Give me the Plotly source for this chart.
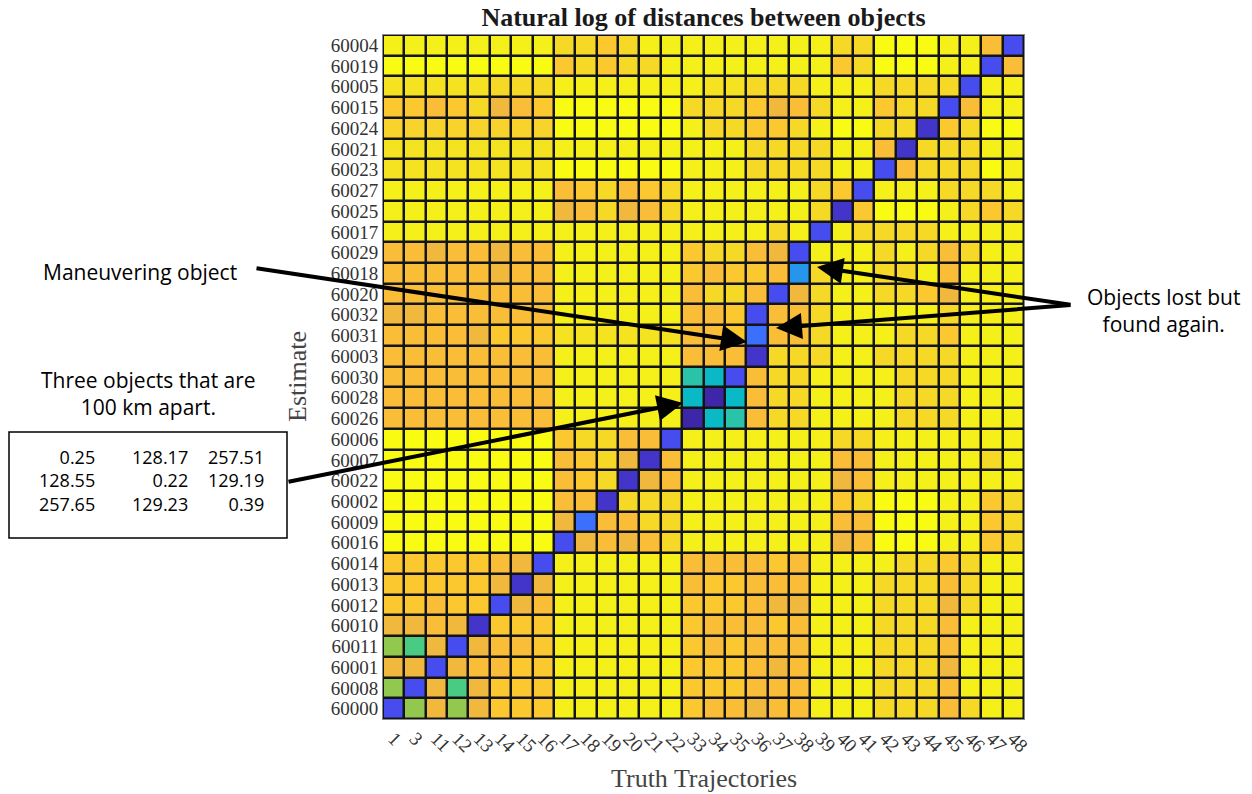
import plotly.graph_objects as go

truth_labels = ["1", "3", "11", "12", "13", "14", "15", "16", "17", "18", "19", "20", "21", "22",
                "33", "34", "35", "36", "37", "38", "39", "40", "41", "42", "43", "44", "45", "46", "47", "48"]

estimate_labels = ["60004", "60019", "60005", "60015", "60024", "60021", "60023", "60027", "60025",
                   "60017", "60029", "60018", "60020", "60032", "60031", "60003", "60030", "60028",
                   "60026", "60006", "60007", "60022", "60002", "60009", "60016", "60014", "60013",
                   "60012", "60010", "60011", "60001", "60008", "60000"]

# natural log of distances (rows = estimates top->bottom, cols = truth trajectories)
log_dist = [
    [10.55, 10.55, 10.55, 10.55, 10.55, 10.55, 10.55, 10.55, 9.95, 9.95, 9.4, 9.95, 10.55, 10.55, 10.55, 10.55, 10.55, 10.55, 10.55, 10.55, 10.55, 9.95, 9.95, 10.8, 10.8, 10.8, 10.55, 10.55, 9.05, 1.1],
    [10.8, 10.8, 10.8, 10.8, 10.8, 10.8, 10.8, 10.8, 9.4, 9.95, 9.4, 9.95, 9.95, 10.55, 10.55, 10.55, 10.55, 10.55, 10.55, 10.55, 10.55, 9.4, 9.95, 10.8, 10.8, 10.8, 10.55, 10.55, 1.1, 9.05],
    [10.25, 10.25, 10.25, 10.25, 10.25, 9.95, 9.95, 9.95, 10.55, 10.55, 10.55, 10.55, 10.55, 10.55, 10.55, 10.25, 10.25, 9.95, 9.95, 9.95, 10.55, 10.55, 10.55, 9.95, 9.95, 9.95, 9.95, 1.1, 10.55, 10.55],
    [9.4, 9.4, 9.05, 9.4, 9.95, 8.7, 9.05, 9.4, 10.8, 10.8, 10.8, 10.8, 10.8, 10.8, 9.95, 9.95, 9.95, 9.4, 8.7, 9.05, 9.95, 10.55, 10.55, 9.4, 9.95, 9.95, 1.1, 9.05, 10.55, 10.55],
    [9.75, 9.75, 9.75, 9.75, 9.75, 9.75, 9.75, 9.75, 10.8, 10.8, 10.8, 10.8, 10.8, 10.8, 10.55, 9.95, 9.95, 9.4, 9.4, 9.95, 10.55, 10.8, 10.8, 9.95, 9.95, 0.1, 9.4, 9.95, 10.8, 10.8],
    [10.25, 10.25, 10.25, 10.25, 10.25, 10.25, 10.25, 10.25, 10.55, 10.55, 10.55, 10.55, 10.55, 10.55, 10.55, 10.55, 10.55, 9.95, 9.95, 9.95, 9.95, 10.55, 10.55, 9.05, 0.1, 9.95, 9.95, 9.95, 10.55, 10.55],
    [10.25, 10.25, 10.25, 10.25, 10.25, 10.25, 10.25, 10.25, 10.8, 10.8, 10.8, 10.8, 10.8, 10.8, 10.55, 10.55, 10.55, 9.95, 9.95, 9.95, 9.95, 10.55, 10.55, 1.1, 9.05, 9.95, 9.95, 9.95, 10.8, 10.55],
    [10.55, 10.55, 10.55, 10.55, 10.55, 10.55, 10.55, 10.55, 9.05, 9.4, 9.95, 9.05, 9.4, 9.95, 10.55, 10.55, 10.55, 10.55, 10.55, 10.55, 9.95, 9.4, 1.1, 10.55, 10.55, 10.55, 9.95, 9.95, 9.95, 10.55],
    [10.55, 10.55, 10.55, 10.55, 10.55, 10.55, 10.55, 10.55, 8.7, 9.05, 9.95, 8.7, 9.05, 9.95, 10.55, 10.55, 10.55, 10.55, 10.55, 10.55, 9.95, 0.1, 9.4, 10.8, 10.8, 10.8, 10.55, 9.95, 9.4, 9.95],
    [10.55, 10.55, 10.55, 10.55, 10.55, 10.55, 10.55, 10.55, 10.55, 10.55, 10.55, 10.55, 10.55, 10.55, 10.55, 10.55, 10.55, 10.55, 9.95, 10.55, 1.1, 10.55, 9.95, 9.95, 9.95, 9.95, 10.55, 10.55, 10.55, 10.55],
    [9.05, 9.05, 8.7, 9.05, 9.05, 8.7, 9.05, 9.05, 10.55, 10.55, 10.55, 10.55, 10.55, 10.55, 9.4, 9.95, 9.95, 9.05, 8.7, 1.1, 10.55, 10.55, 10.55, 9.95, 10.55, 9.95, 9.05, 9.95, 10.55, 10.55],
    [9.05, 9.05, 9.05, 9.05, 9.05, 8.7, 9.05, 9.05, 10.55, 10.55, 10.55, 10.55, 10.55, 10.55, 9.4, 9.05, 9.4, 9.4, 9.05, 3.2, 9.95, 10.55, 10.55, 9.95, 9.95, 10.55, 9.05, 10.55, 10.55, 10.55],
    [9.05, 9.05, 9.05, 9.05, 9.05, 9.05, 9.05, 9.05, 10.55, 10.55, 10.55, 10.55, 10.55, 10.55, 9.05, 9.95, 9.95, 9.05, 1.1, 8.7, 9.95, 10.55, 10.55, 9.95, 9.95, 9.4, 8.7, 10.55, 10.55, 10.55],
    [8.7, 8.7, 9.05, 9.05, 9.05, 9.05, 9.05, 9.05, 10.55, 10.55, 10.55, 10.55, 10.55, 10.55, 9.05, 9.05, 9.4, 1.1, 9.05, 9.05, 9.95, 10.55, 10.55, 10.55, 10.55, 10.55, 9.95, 10.55, 10.55, 10.55],
    [9.05, 9.05, 9.05, 9.05, 8.7, 9.4, 9.4, 9.4, 10.25, 10.25, 10.25, 10.25, 10.25, 10.25, 9.05, 9.05, 9.4, 2.15, 9.05, 9.05, 9.95, 10.55, 10.55, 10.55, 9.95, 9.95, 9.4, 10.55, 10.55, 10.55],
    [9.05, 9.05, 9.05, 9.05, 9.05, 9.05, 9.05, 9.05, 10.55, 10.55, 10.55, 10.55, 10.55, 10.55, 9.05, 9.05, 9.05, 0.1, 9.95, 9.95, 9.95, 10.55, 10.55, 9.95, 9.95, 9.95, 9.95, 10.55, 10.55, 10.55],
    [9.05, 9.05, 9.05, 9.05, 9.05, 9.05, 9.05, 9.05, 10.55, 10.55, 10.55, 10.55, 10.55, 10.55, 5.552, 4.862, 1.1, 9.05, 9.95, 9.95, 10.55, 10.55, 10.55, 10.55, 9.95, 9.95, 9.95, 10.55, 10.55, 10.55],
    [9.05, 9.05, 9.05, 9.05, 9.05, 9.05, 9.05, 9.05, 10.55, 10.55, 10.55, 10.55, 10.55, 10.55, 4.856, -1.514, 4.861, 9.05, 9.95, 9.95, 10.55, 10.55, 10.55, 10.55, 9.95, 9.95, 9.95, 10.55, 10.55, 10.55],
    [9.05, 9.05, 9.05, 9.05, 9.05, 9.05, 9.05, 9.05, 10.55, 10.55, 10.55, 10.55, 10.55, 10.55, -1.386, 4.853, 5.551, 9.05, 9.95, 9.95, 10.55, 10.55, 10.55, 10.55, 9.95, 9.95, 9.95, 10.55, 10.55, 10.55],
    [10.8, 10.8, 10.8, 10.8, 10.8, 10.8, 10.8, 10.8, 9.4, 9.95, 9.95, 9.05, 9.05, 1.1, 10.55, 10.55, 10.55, 10.55, 10.55, 10.55, 10.55, 9.95, 9.95, 10.55, 10.55, 10.55, 10.55, 10.55, 10.55, 10.55],
    [10.8, 10.8, 10.8, 10.8, 10.8, 10.8, 10.8, 10.8, 9.05, 9.4, 9.95, 8.7, 0.1, 9.05, 10.55, 10.55, 10.55, 10.55, 10.55, 10.55, 10.55, 9.05, 9.05, 10.55, 10.55, 10.55, 10.55, 10.55, 9.95, 10.55],
    [10.8, 10.8, 10.8, 10.8, 10.8, 10.8, 10.8, 10.8, 9.05, 9.4, 9.95, 0.1, 8.7, 9.05, 10.55, 10.55, 10.55, 10.55, 10.55, 10.55, 10.55, 8.7, 9.05, 10.55, 10.55, 10.55, 10.55, 10.55, 10.55, 10.55],
    [10.8, 10.8, 10.8, 10.8, 10.8, 10.8, 10.8, 10.8, 9.05, 9.05, 0.1, 9.95, 9.95, 9.95, 10.55, 10.55, 10.55, 10.55, 10.55, 10.55, 10.55, 9.4, 9.95, 10.8, 10.8, 10.8, 10.55, 10.55, 9.4, 9.95],
    [10.8, 10.8, 10.8, 10.8, 10.8, 10.8, 10.8, 10.8, 8.7, 2.15, 9.05, 9.05, 9.95, 9.95, 10.55, 10.55, 10.55, 10.55, 10.55, 10.55, 10.55, 9.05, 9.05, 10.8, 10.8, 10.8, 10.55, 10.55, 9.4, 9.95],
    [10.8, 10.8, 10.8, 10.8, 10.8, 10.8, 10.8, 10.8, 1.1, 8.7, 9.05, 8.7, 9.05, 9.95, 10.55, 10.55, 10.55, 10.55, 10.55, 10.55, 10.55, 8.7, 9.05, 10.8, 10.8, 10.8, 10.55, 10.55, 9.4, 9.95],
    [9.4, 9.4, 9.4, 9.4, 9.4, 9.05, 8.7, 1.1, 10.55, 10.55, 10.55, 10.55, 10.55, 10.55, 9.05, 9.05, 9.05, 9.05, 9.4, 9.05, 10.55, 10.55, 10.55, 10.55, 9.95, 9.95, 9.4, 9.95, 10.55, 10.55],
    [9.4, 9.4, 9.4, 9.4, 9.4, 8.7, 0.1, 8.7, 10.55, 10.55, 10.55, 10.55, 10.55, 10.55, 9.05, 9.4, 9.4, 9.05, 9.05, 9.05, 10.55, 10.55, 10.55, 9.95, 9.95, 9.95, 9.05, 9.95, 10.55, 10.55],
    [9.4, 9.4, 9.05, 9.4, 9.4, 1.1, 8.7, 9.05, 10.55, 10.55, 10.55, 10.55, 10.55, 10.55, 9.4, 9.4, 9.4, 9.05, 8.7, 8.7, 10.55, 10.55, 10.55, 9.95, 9.95, 9.95, 8.7, 9.95, 10.55, 10.55],
    [8.7, 8.7, 9.05, 8.7, 0.1, 9.4, 9.4, 9.4, 10.55, 10.55, 10.55, 10.55, 10.55, 10.55, 9.4, 9.05, 9.05, 9.05, 9.4, 9.05, 10.55, 10.55, 10.55, 9.95, 9.95, 9.95, 9.05, 10.55, 10.55, 10.55],
    [7.3, 6.2, 8.7, 1.1, 8.7, 9.05, 9.05, 9.4, 10.55, 10.55, 10.55, 10.55, 10.55, 10.55, 9.4, 9.05, 9.4, 9.05, 9.05, 9.05, 10.55, 10.55, 10.55, 9.95, 9.95, 9.95, 9.05, 10.55, 10.55, 10.55],
    [8.7, 8.7, 1.1, 8.7, 9.05, 9.05, 9.4, 9.4, 10.55, 10.55, 10.55, 10.55, 10.55, 10.55, 9.4, 9.4, 9.4, 9.05, 8.7, 9.05, 10.55, 10.55, 10.55, 9.95, 9.95, 9.95, 8.7, 10.55, 10.55, 10.55],
    [7.3, 1.1, 8.7, 6.2, 8.7, 9.4, 9.4, 9.4, 10.55, 10.55, 10.55, 10.55, 10.55, 10.55, 9.4, 9.4, 9.4, 9.05, 9.05, 9.05, 10.55, 10.55, 10.55, 9.95, 9.95, 9.95, 9.05, 10.55, 10.55, 10.55],
    [1.1, 7.3, 8.7, 7.3, 8.7, 9.4, 9.4, 9.4, 10.55, 10.55, 10.55, 10.55, 10.55, 10.55, 9.4, 9.05, 9.05, 8.7, 9.05, 9.05, 10.55, 10.55, 10.55, 9.95, 9.95, 9.95, 9.05, 9.95, 10.55, 10.55],
]

# distance table for the three close objects (km)
table_col1 = ["0.25", "128.55", "257.65"]
table_col2 = ["128.17", "0.22", "129.23"]
table_col3 = ["257.51", "129.19", "0.39"]

parula_like = [
    [0.000, "rgb(62,38,168)"], [0.032, "rgb(68,52,200)"], [0.127, "rgb(71,76,238)"],
    [0.222, "rgb(58,112,252)"], [0.317, "rgb(38,150,236)"], [0.460, "rgb(8,184,200)"],
    [0.524, "rgb(40,195,172)"], [0.587, "rgb(75,203,130)"], [0.683, "rgb(145,200,78)"],
    [0.762, "rgb(205,190,55)"], [0.810, "rgb(240,184,60)"], [0.841, "rgb(250,188,56)"],
    [0.873, "rgb(252,200,48)"], [0.921, "rgb(246,216,40)"], [0.968, "rgb(244,234,30)"],
    [1.000, "rgb(249,251,18)"],
]

W, H = 1252, 794
L, R, T, B = 383, 228, 35, 75
PW, PH = W - L - R, H - T - B


def px(x):
    return (x - L) / PW


def py(y):
    return (H - B - y) / PH


fig = go.Figure(go.Heatmap(
    z=log_dist, x=truth_labels, y=estimate_labels,
    colorscale=parula_like, zmin=-0.3, zmax=10.8, showscale=False,
    xgap=2.5, ygap=2.5, hoverinfo="x+y+z",
))

serif = "Liberation Serif"
sans = "Open Sans"

fig.update_layout(
    width=W, height=H,
    margin=dict(l=L, r=R, t=T, b=B, autoexpand=False),
    paper_bgcolor="white", plot_bgcolor="#141414",
    title=dict(text="<b>Natural log of distances between objects</b>",
               font=dict(family=serif, size=26, color="#1a1a1a"),
               x=0.5, xref="paper", xanchor="center",
               y=1 - 17 / H, yref="container", yanchor="middle"),
    xaxis=dict(type="category", tickangle=45, ticks="", showgrid=False, zeroline=False,
               tickmode="array", tickvals=truth_labels, ticktext=truth_labels,
               tickfont=dict(family=serif, size=19, color="#333333"),
               showline=True, linecolor="#888888", linewidth=1, mirror=True,
               range=[-0.5, len(truth_labels) - 0.5]),
    yaxis=dict(type="category", ticks="", showgrid=False, zeroline=False,
               tickmode="array", tickvals=estimate_labels, ticktext=estimate_labels,
               tickfont=dict(family=serif, size=19, color="#333333"),
               showline=True, linecolor="#888888", linewidth=1, mirror=True,
               range=[len(estimate_labels) - 0.5, -0.5]),
)

ann = []
ann.append(dict(text="Truth Trajectories", x=0.5, y=py(778), xref="paper", yref="paper",
                showarrow=False, xanchor="center", yanchor="middle",
                font=dict(family=serif, size=26, color="#444444")))
ann.append(dict(text="Estimate", x=px(297), y=0.5, xref="paper", yref="paper",
                showarrow=False, textangle=-90, xanchor="center", yanchor="middle",
                font=dict(family=serif, size=26, color="#444444")))
ann.append(dict(text="Maneuvering object", x=px(140), y=py(272), xref="paper", yref="paper",
                showarrow=False, xanchor="center", yanchor="middle",
                font=dict(family=sans, size=21, color="black")))
ann.append(dict(text="Objects lost but<br>found again.", x=px(1163), y=py(310), xref="paper",
                yref="paper", showarrow=False, xanchor="center", yanchor="middle", align="center",
                font=dict(family=sans, size=21, color="black")))
ann.append(dict(text="Three objects that are<br>100 km apart.", x=px(148), y=py(393), xref="paper",
                yref="paper", showarrow=False, xanchor="center", yanchor="middle", align="center",
                font=dict(family=sans, size=21, color="black")))

# table columns as right-aligned multi-line blocks
col_right = [97, 190, 266]
for xr, col in zip(col_right, [table_col1, table_col2, table_col3]):
    ann.append(dict(text="<br>".join(col), x=px(xr), y=py(480), xref="paper", yref="paper",
                    showarrow=False, xanchor="right", yanchor="middle", align="right",
                    font=dict(family=sans, size=18, color="black")))

# arrows: (head_x, head_y, tail_x, tail_y) in pixels
arrows = [(747, 342, 255, 268), (817, 267, 1072, 305), (776, 328, 1072, 305), (683, 403, 287, 482)]
for hx, hy, tx, ty in arrows:
    ann.append(dict(text="", x=px(hx), y=py(hy), xref="paper", yref="paper",
                    showarrow=True, ax=tx - hx, ay=ty - hy, axref="pixel", ayref="pixel",
                    arrowhead=2, arrowsize=1.3, arrowwidth=4, arrowcolor="black", standoff=0))

fig.update_layout(annotations=ann)
fig.add_shape(type="rect", xref="paper", yref="paper", x0=px(9), x1=px(287), y0=py(538), y1=py(432),
              line=dict(color="black", width=1.5), fillcolor="rgba(0,0,0,0)")

fig.write_html("out.html", config={"displayModeBar": False},
               post_script="document.body.style.margin='0';")
